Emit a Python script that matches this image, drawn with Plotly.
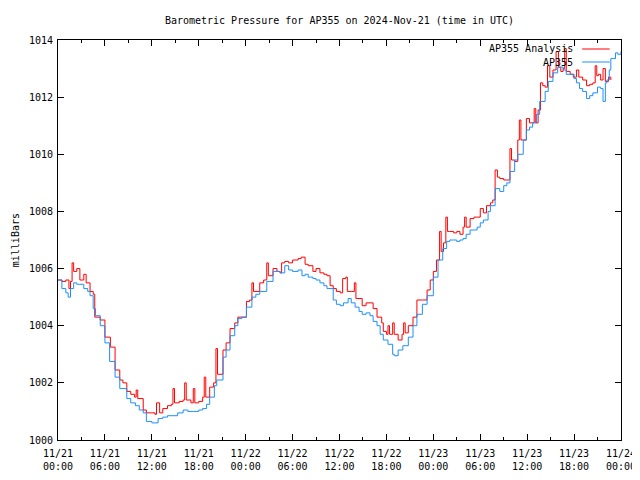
import plotly.graph_objects as go

# Hours since 2024-11-21 00:00 UTC, and pressure (mb)
analysis_hours = [0.0, 0.5, 1.0, 1.4, 1.6, 1.8, 2.0, 2.4, 2.8, 3.3, 3.6, 4.1, 4.5, 4.7, 5.4, 6.0, 6.7, 7.3, 7.9, 8.3,
                  8.8, 9.3, 9.8, 10.0, 10.2, 10.9, 11.3, 12.0, 12.4, 12.6, 13.0, 13.4, 14.0, 14.5, 14.7, 14.9, 15.5, 16.0, 16.2, 16.4,
                  17.0, 17.3, 17.5, 18.0, 18.5, 18.7, 18.9, 19.4, 19.9, 20.2, 20.4, 21.1, 21.5, 22.0, 22.6, 23.0, 23.3, 24.1, 24.5, 24.8,
                  25.0, 25.8, 26.3, 26.7, 26.9, 27.5, 28.0, 28.4, 28.6, 29.0, 29.5, 30.0, 30.7, 31.1, 31.6, 32.0, 32.6, 33.0, 33.5, 34.0,
                  34.4, 34.8, 35.2, 35.6, 36.1, 36.4, 36.8, 37.0, 37.5, 37.9, 38.1, 38.9, 39.4, 39.9, 40.3, 40.8, 41.4, 41.6, 42.0, 42.2,
                  42.4, 42.8, 43.0, 43.5, 44.0, 44.2, 44.4, 44.8, 45.4, 45.9, 46.6, 47.2, 47.6, 48.0, 48.4, 48.8, 49.0, 49.3, 49.6, 49.8,
                  50.1, 50.6, 51.0, 51.4, 51.8, 52.0, 52.2, 52.7, 53.2, 53.6, 54.0, 54.4, 54.8, 55.3, 55.6, 55.9, 56.2, 56.5, 57.0, 57.4,
                  57.8, 58.0, 58.4, 58.8, 59.0, 59.2, 59.5, 59.9, 60.3, 60.7, 60.9, 61.1, 61.4, 61.7, 62.0, 62.3, 62.6, 62.9, 63.3, 63.7,
                  64.0, 64.3, 64.6, 64.8, 65.0, 65.5, 65.9, 66.3, 66.6, 67.1, 67.6, 68.0, 68.4, 68.7, 68.9, 69.1, 69.4, 69.7, 70.0, 70.4,
                  70.7]
analysis_mb = [1005.6, 1005.55, 1005.6, 1005.3, 1005.55, 1006.2, 1005.9, 1006.0, 1005.6, 1005.8, 1005.5, 1005.2, 1005.1, 1004.3, 1004.2, 1003.6, 1003.25, 1002.45, 1002.1, 1002.0,
               1001.7, 1001.6, 1001.5, 1001.75, 1001.45, 1001.05, 1000.95, 1000.95, 1000.9, 1001.3, 1000.95, 1001.1, 1001.2, 1001.25, 1001.8, 1001.3, 1001.35, 1001.4, 1002.0, 1001.4,
               1001.3, 1001.8, 1001.3, 1001.35, 1001.5, 1002.2, 1001.5, 1001.85, 1002.0, 1003.2, 1002.3, 1003.15, 1003.4, 1003.9, 1004.1, 1004.3, 1004.3, 1004.85, 1004.9, 1005.5,
               1005.2, 1005.5, 1005.6, 1006.2, 1005.75, 1006.0, 1005.9, 1005.85, 1006.2, 1006.25, 1006.2, 1006.3, 1006.35, 1006.4, 1006.15, 1006.1, 1005.9, 1006.0, 1005.85, 1005.8,
               1005.75, 1005.4, 1005.3, 1005.2, 1005.15, 1005.65, 1005.7, 1005.2, 1005.2, 1005.5, 1004.95, 1004.7, 1004.8, 1004.8, 1004.6, 1004.3, 1004.1, 1003.8, 1003.7, 1004.0,
               1003.7, 1004.1, 1003.7, 1003.5, 1003.7, 1004.1, 1003.75, 1004.0, 1004.3, 1004.9, 1004.9, 1005.25, 1005.6, 1005.9, 1006.3, 1007.3, 1006.6, 1006.9, 1007.8, 1007.3,
               1007.3, 1007.25, 1007.3, 1007.2, 1007.45, 1007.8, 1007.45, 1007.75, 1007.8, 1007.8, 1008.1, 1007.95, 1008.2, 1008.3, 1008.4, 1009.45, 1009.2, 1009.15, 1009.1, 1009.1,
               1010.2, 1009.8, 1009.75, 1010.5, 1011.2, 1010.5, 1010.5, 1011.25, 1011.1, 1011.1, 1011.6, 1011.1, 1011.55, 1012.5, 1012.4, 1012.35, 1013.1, 1012.7, 1012.95, 1013.6,
               1013.05, 1012.9, 1013.0, 1013.7, 1012.9, 1012.8, 1012.7, 1012.95, 1012.7, 1012.6, 1012.4, 1012.45, 1012.5, 1013.1, 1012.75, 1012.8, 1012.6, 1013.0, 1012.55, 1012.7,
               1012.6]

station_hours = [0.0, 0.5, 1.0, 1.3, 1.6, 2.0, 2.4, 2.8, 3.3, 3.8, 4.1, 4.5, 4.8, 5.4, 6.0, 6.6, 7.3, 7.9, 8.8, 9.3,
                 9.9, 10.4, 10.9, 11.3, 12.0, 12.4, 12.8, 13.4, 14.0, 14.7, 15.3, 16.0, 16.6, 17.3, 18.0, 18.5, 19.0, 19.4, 20.0, 20.3,
                 21.1, 21.5, 22.0, 22.6, 23.0, 23.5, 24.1, 24.8, 25.3, 25.8, 26.7, 27.0, 27.5, 28.4, 29.0, 29.5, 30.0, 30.7, 31.2, 31.6,
                 32.0, 32.6, 33.0, 33.5, 34.0, 34.4, 35.2, 35.6, 36.1, 36.5, 37.1, 37.5, 38.0, 38.5, 38.9, 39.4, 39.9, 40.3, 40.8, 41.2,
                 41.6, 42.2, 42.8, 43.0, 43.5, 44.1, 44.8, 45.4, 45.9, 46.6, 47.2, 48.0, 48.6, 49.2, 49.7, 50.1, 50.6, 51.0, 51.4, 51.8,
                 52.2, 52.7, 53.6, 54.0, 54.4, 55.0, 55.3, 55.9, 56.5, 57.0, 57.4, 57.8, 58.4, 58.8, 59.5, 59.9, 60.3, 60.7, 61.2, 61.6,
                 62.3, 62.7, 63.3, 63.9, 64.6, 65.0, 65.5, 66.0, 66.3, 66.7, 67.1, 67.6, 68.0, 68.4, 69.0, 69.4, 69.7, 70.0, 70.2, 70.5,
                 70.7, 71.0, 71.3, 71.6, 72.0]
station_mb = [1005.6, 1005.3, 1005.15, 1005.0, 1005.3, 1005.5, 1005.45, 1005.45, 1005.3, 1005.2, 1005.05, 1004.6, 1004.35, 1004.0, 1003.4, 1002.75, 1002.2, 1001.8, 1001.45, 1001.3,
              1001.2, 1001.05, 1000.95, 1000.65, 1000.6, 1000.6, 1000.75, 1000.8, 1000.85, 1000.85, 1000.95, 1001.05, 1001.0, 1001.0, 1001.05, 1001.1, 1001.25, 1001.5, 1001.9, 1002.1,
              1002.9, 1003.15, 1003.65, 1004.0, 1004.25, 1004.3, 1004.65, 1005.0, 1005.1, 1005.2, 1005.55, 1005.55, 1005.9, 1005.85, 1006.1, 1005.95, 1005.9, 1005.95, 1005.75, 1005.8,
              1005.7, 1005.65, 1005.6, 1005.5, 1005.4, 1005.3, 1004.9, 1004.75, 1004.7, 1004.8, 1004.95, 1004.8, 1004.65, 1004.5, 1004.4, 1004.45, 1004.35, 1004.15, 1004.0, 1003.7,
              1003.5, 1003.35, 1003.0, 1002.95, 1003.15, 1003.3, 1003.6, 1004.0, 1004.4, 1004.75, 1005.05, 1005.7, 1006.3, 1006.7, 1006.95, 1007.0, 1007.0, 1006.95, 1007.0, 1007.05,
              1007.2, 1007.35, 1007.45, 1007.6, 1007.7, 1008.0, 1008.2, 1008.8, 1008.7, 1008.9, 1009.0, 1009.4, 1009.8, 1010.0, 1010.5, 1010.85, 1010.95, 1011.1, 1011.4, 1011.85,
              1012.2, 1012.55, 1012.85, 1013.05, 1012.95, 1012.8, 1012.8, 1012.65, 1012.5, 1012.3, 1012.2, 1011.95, 1012.05, 1012.15, 1012.35, 1012.3, 1011.85, 1012.5, 1012.6, 1012.95,
              1013.35, 1013.35, 1013.55, 1013.5, 1013.6]

tick_hours = [0, 6, 12, 18, 24, 30, 36, 42, 48, 54, 60, 66, 72]
tick_labels = ["11/21<br>00:00", "11/21<br>06:00", "11/21<br>12:00", "11/21<br>18:00",
               "11/22<br>00:00", "11/22<br>06:00", "11/22<br>12:00", "11/22<br>18:00",
               "11/23<br>00:00", "11/23<br>06:00", "11/23<br>12:00", "11/23<br>18:00",
               "11/24<br>00:00"]
series_names = ["AP355 Analysis", "AP355"]
series_colors = ["#ff0000", "#1e8fff"]

FONT = "DejaVu Sans Mono"

fig = go.Figure()
fig.add_trace(go.Scatter(x=analysis_hours, y=analysis_mb, mode="lines", name=series_names[0],
                         line=dict(color=series_colors[0], width=1, shape="hv"), showlegend=False))
fig.add_trace(go.Scatter(x=station_hours, y=station_mb, mode="lines", name=series_names[1],
                         line=dict(color=series_colors[1], width=1, shape="hv"), showlegend=False))

# gnuplot-style legend: text on the left, line sample on the right
legend_rows = [0.9775, 0.945]
for name, color, yy in zip(series_names, series_colors, legend_rows):
    fig.add_annotation(x=0.918, y=yy, xref="paper", yref="paper", text=name, showarrow=False,
                       xanchor="right", yanchor="middle", font=dict(family=FONT, size=10, color="black"))
    fig.add_shape(type="line", xref="paper", yref="paper", x0=0.931, x1=0.98, y0=yy, y1=yy,
                  line=dict(color=color, width=1))

# y-axis title placed like gnuplot's ylabel
fig.add_annotation(x=-0.076, y=0.5, xref="paper", yref="paper", text="milliBars", showarrow=False,
                   textangle=-90, xanchor="center", yanchor="middle",
                   font=dict(family=FONT, size=10, color="black"))

# the page body has an 8px margin, so the figure is sized and offset to compensate
fig.update_layout(
    width=632, height=472,
    margin=dict(l=50, r=19, t=32, b=40, autoexpand=False),
    paper_bgcolor="white", plot_bgcolor="white",
    font=dict(family=FONT, size=10, color="black"),
    title=dict(text="Barometric Pressure for AP355 on 2024-Nov-21 (time in UTC)",
               x=0.5, xref="paper", y=1 - 12 / 472, yanchor="middle", yref="container",
               font=dict(family=FONT, size=10, color="black")),
)
fig.update_xaxes(range=[0, 72], tickvals=tick_hours, ticktext=tick_labels, automargin=False,
                 showgrid=False, zeroline=False, showline=True, linecolor="black", linewidth=1,
                 mirror="allticks", ticks="inside", ticklen=6, tickcolor="black", ticklabelstandoff=4,
                 minor=dict(ticks="inside", ticklen=3, dtick=3, tick0=0, tickcolor="black"),
                 tickfont=dict(family=FONT, size=10))
fig.update_yaxes(range=[1000, 1014], dtick=2, tick0=1000, automargin=False,
                 showgrid=False, zeroline=False, showline=True, linecolor="black", linewidth=1,
                 mirror="allticks", ticks="inside", ticklen=6, tickcolor="black", ticklabelstandoff=2,
                 tickfont=dict(family=FONT, size=10))

fig.write_html("out.html")
